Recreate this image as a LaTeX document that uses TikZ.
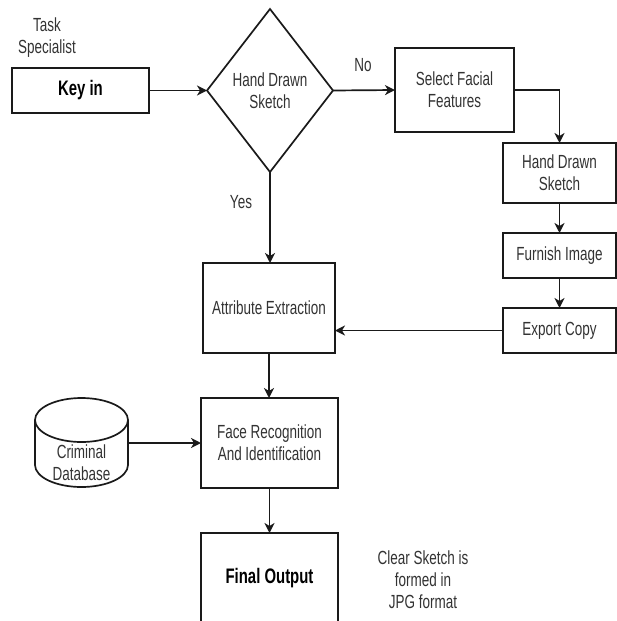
\documentclass[tikz,border=0pt]{standalone}
\usepackage{fontspec}
\setmainfont{Liberation Sans}[FakeStretch=0.71]
\usetikzlibrary{shapes.geometric,arrows.meta}
\definecolor{txt}{HTML}{333333}
\definecolor{ln}{HTML}{1A1A1A}
\begin{document}
\begin{tikzpicture}[x=1pt,y=-1pt,
  every node/.style={text=txt,font=\fontsize{19}{22}\selectfont,align=center,inner sep=0pt,outer sep=0pt},
  box/.style={draw=ln,line width=1.7pt,fill=white,rectangle},
  dec/.style={draw=ln,line width=1.7pt,fill=white,diamond},
  bold/.style={font=\fontsize{21}{24}\selectfont\bfseries,text=black},
  arr/.style={draw=ln,line width=1.7pt,-{Stealth[length=10pt,width=10pt,inset=3pt]}},
  cyl/.style={draw=ln,line width=1.7pt,fill=white}]
\useasboundingbox (0,0) rectangle (617,621);
\clip (0,0) rectangle (617,621);
\fill[white] (0,0) rectangle (617,621);

\node (task) at (47,38) {Task\\Specialist};
\node[box,bold,minimum width=137pt,minimum height=45pt] (key) at (80.5,90.5) {Key in};
\node[dec,minimum width=126pt,minimum height=163pt] (dia) at (270,90.5) {Hand Drawn\\Sketch};
\node[box,minimum width=119pt,minimum height=84pt] (sel) at (454.5,90) {Select Facial\\Features};
\node[box,minimum width=113pt,minimum height=60pt] (hds) at (559.5,173) {Hand Drawn\\Sketch};
\node[box,minimum width=113pt,minimum height=45pt] (fur) at (559.5,255.5) {Furnish Image};
\node[box,minimum width=113pt,minimum height=45pt] (exp) at (559.5,330.5) {Export Copy};
\node[box,minimum width=132pt,minimum height=90pt] (attr) at (269,308) {Attribute Extraction};
\node[box,minimum width=137pt,minimum height=90pt] (face) at (269.5,443) {Face Recognition\\And Identification};
\node[box,bold,minimum width=137pt,minimum height=90pt] (fin) at (269.5,578) {Final Output};
\node (clear) at (423,580) {Clear Sketch is\\formed in\\JPG format};

% cylinder
\node[minimum width=93pt,minimum height=90pt] (db) at (81.5,443) {};
\fill[white] (35,420) -- (35,465) arc[start angle=180,end angle=360,x radius=46.5pt,y radius=22pt] -- (128,420) -- cycle;
\draw[cyl] (35,420) -- (35,465) arc[start angle=180,end angle=360,x radius=46.5pt,y radius=22pt] -- (128,420);
\draw[cyl] (81.5,420) ellipse[x radius=46.5pt,y radius=22pt];
\node (dbtext) at (81.5,463) {Criminal\\Database};

% labels
\node (no) at (363,65) {No};
\node (yes) at (241,202) {Yes};

% connectors
\draw[arr] (key.east) -- (dia.west);
\draw[arr] (dia.east) -- (sel.west);
\draw[arr] (sel.east) -| (hds.north);
\draw[arr] (hds.south) -- (fur.north);
\draw[arr] (fur.south) -- (exp.north);
\draw[arr] (exp.west) -- (exp.west -| attr.east);
\draw[arr] (dia.south) -- (dia.south |- attr.north);
\draw[arr] (attr.south) -- (attr.south |- face.north);
\draw[arr] (face.south) -- (fin.north);
\draw[arr] (db.east) -- (face.west);
\end{tikzpicture}
\end{document}
